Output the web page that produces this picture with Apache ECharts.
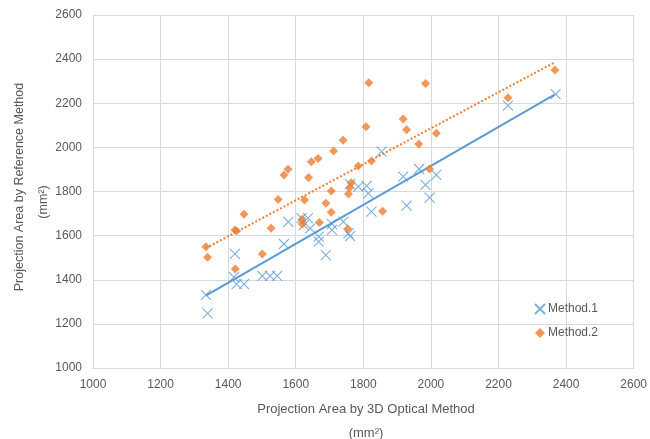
<!DOCTYPE html>
<html><head><meta charset="utf-8">
<script src="https://cdn.jsdelivr.net/npm/echarts@6/dist/echarts.min.js"></script>
<style>html,body{margin:0;padding:0;background:#fff}#c{width:650px;height:439px}</style>
</head><body><div id="c"></div>
<script>
const xTicks = [1000,1200,1400,1600,1800,2000,2200,2400,2600];
const yTicks = [1000,1200,1400,1600,1800,2000,2200,2400,2600];
const seriesNames = ['Method.1','Method.2'];
const method1 = [
 [1334,1331],[1339,1248],[1420,1517],[1417,1412],[1425,1380],[1447,1380],
 [1501,1418],[1524,1418],[1545,1418],[1565,1562],[1578,1662],[1617,1679],
 [1636,1679],[1624,1648],[1643,1633],[1668,1595],[1668,1573],[1707,1653],
 [1707,1626],[1741,1663],[1756,1610],[1761,1598],[1689,1512],[1761,1833],
 [1785,1822],[1810,1825],[1815,1792],[1824,1709],[1854,1981],[1918,1867],
 [1965,1902],[1984,1830],[2016,1875],[1996,1772],[1928,1736],[2228,2189],
 [2369,2241]
];
const method2 = [
 [1334,1550],[1339,1502],[1421,1449],[1420,1626],[1425,1621],[1447,1697],
 [1501,1517],[1527,1633],[1548,1764],[1565,1875],[1577,1901],[1646,1935],
 [1666,1950],[1712,1984],[1638,1863],[1785,1916],[1824,1938],[1705,1802],
 [1764,1840],[1759,1817],[1756,1789],[1626,1762],[1689,1747],[1705,1706],
 [1619,1674],[1619,1653],[1670,1659],[1754,1631],[1857,1710],[1816,2293],
 [1984,2290],[1808,2094],[1918,2129],[1928,2080],[2016,2064],[1964,2015],
 [1740,2032],[1996,1902],[2228,2225],[2367,2351]
];
const trend1 = [[1334,1328],[2366,2239]];
const trend2 = [[1334,1543],[2367,2386]];

const BLUE='#5B9BD5', ORANGE='#ED7D31', GRID='#D9D9D9', TXT='#595959';
const FONT='"Liberation Sans", Arial, sans-serif';
const chart = echarts.init(document.getElementById('c'));
chart.setOption({
  animation:false,
  textStyle:{fontFamily:FONT},
  grid:{left:93,top:15,right:13,bottom:71,containLabel:false},
  xAxis:{type:'value',min:xTicks[0],max:xTicks[xTicks.length-1],interval:200,
    axisLine:{show:true,lineStyle:{color:GRID}},axisTick:{show:false},
    splitLine:{show:true,lineStyle:{color:GRID,width:1}},
    axisLabel:{color:TXT,fontSize:12,margin:11,fontFamily:FONT,formatter:v=>String(v)}},
  yAxis:{type:'value',min:yTicks[0],max:yTicks[yTicks.length-1],interval:200,
    axisLine:{show:true,lineStyle:{color:GRID}},axisTick:{show:false},
    splitLine:{show:true,lineStyle:{color:GRID,width:1}},
    axisLabel:{color:TXT,fontSize:12,margin:11,fontFamily:FONT,formatter:v=>String(v)}},
  legend:{orient:'vertical',left:529,top:298,itemGap:12,itemWidth:10,itemHeight:10,
    textStyle:{color:TXT,fontSize:12,fontFamily:FONT,padding:[0,0,0,-2]},data:seriesNames},
  graphic:[
    {type:'text',x:366,y:409,style:{text:'Projection Area by 3D Optical Method',fill:TXT,font:'13px '+FONT,textAlign:'center',textVerticalAlign:'middle'}},
    {type:'text',x:366,y:433,style:{text:'(mm²)',fill:TXT,font:'13px '+FONT,textAlign:'center',textVerticalAlign:'middle'}},
    {type:'text',x:20,y:187,rotation:Math.PI/2,style:{text:'Projection Area by Reference Method',fill:TXT,font:'12.5px '+FONT,textAlign:'center',textVerticalAlign:'middle'}},
    {type:'text',x:44,y:202,rotation:Math.PI/2,style:{text:'(mm²)',fill:TXT,font:'12.5px '+FONT,textAlign:'center',textVerticalAlign:'middle'}}
  ],
  series:[
    {name:'Method.1',type:'scatter',data:method1,symbol:'path://M0,0L10,10M10,0L0,10',symbolSize:10,
      itemStyle:{color:'rgba(0,0,0,0)',borderColor:BLUE,borderWidth:1.1},z:3},
    {name:'Method.2',type:'scatter',data:method2,symbol:'diamond',symbolSize:9,
      itemStyle:{color:ORANGE},z:4},
    {name:'trend1',type:'line',data:trend1,symbol:'none',lineStyle:{color:BLUE,width:2},z:2,silent:true},
    {name:'trend2',type:'line',data:trend2,symbol:'none',lineStyle:{color:ORANGE,width:2,type:[2,2]},z:2,silent:true}
  ]
});
</script></body></html>
